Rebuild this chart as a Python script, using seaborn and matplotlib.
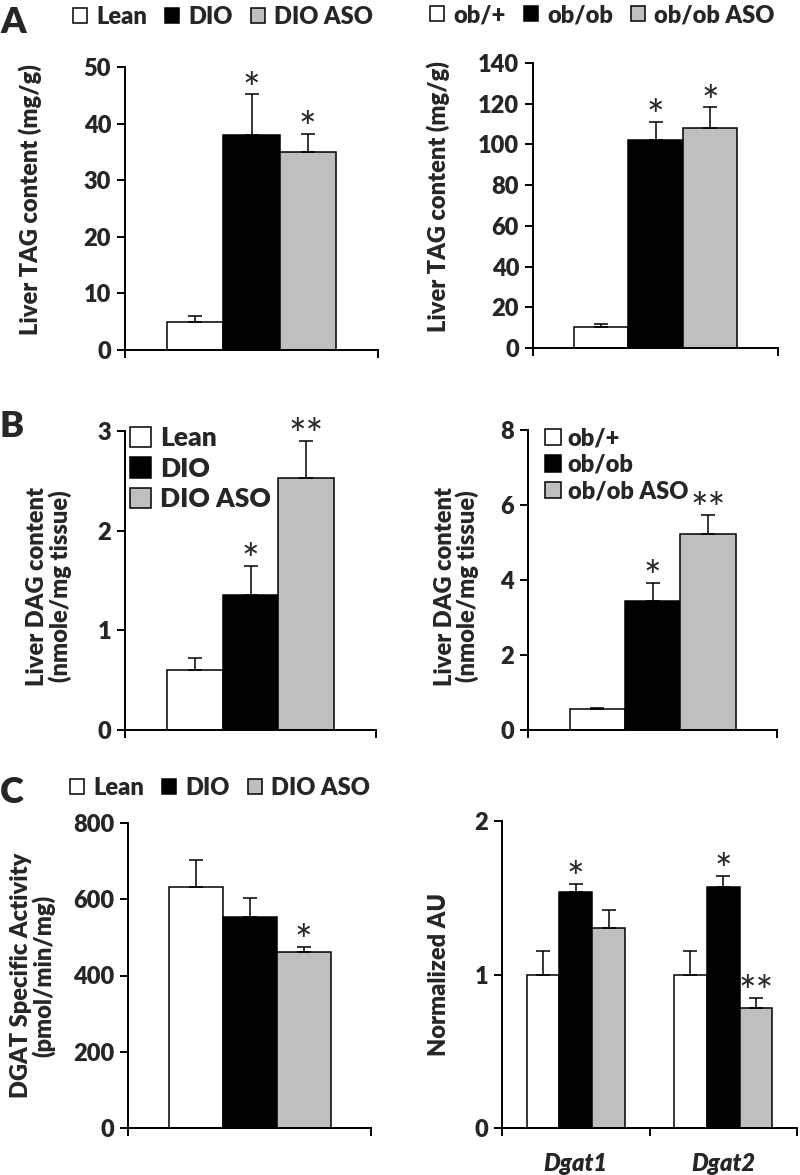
import numpy as np
import pandas as pd
import matplotlib
matplotlib.use("Agg")
import matplotlib.pyplot as plt
import seaborn as sns
from matplotlib.patches import Patch

W, H = 800, 1175

diet_groups = ["Lean", "DIO", "DIO ASO"]
ob_groups = ["ob/+", "ob/ob", "ob/ob ASO"]
genes = ["Dgat1", "Dgat2"]
colors = ["white", "black", "#BFBFBF"]

# A: liver TAG content (mg/g)
tag_diet_mean = [5.0, 38.0, 35.0]
tag_diet_sem = [1.0, 7.2, 3.2]
tag_diet_stars = ["", "*", "*"]
tag_ob_mean = [10.5, 102.0, 108.0]
tag_ob_sem = [1.2, 9.0, 10.3]
tag_ob_stars = ["", "*", "*"]

# B: liver DAG content (nmole/mg tissue)
dag_diet_mean = [0.60, 1.35, 2.53]
dag_diet_sem = [0.12, 0.30, 0.37]
dag_diet_stars = ["", "*", "**"]
dag_ob_mean = [0.55, 3.45, 5.23]
dag_ob_sem = [0.05, 0.48, 0.50]
dag_ob_stars = ["", "*", "**"]

# C: DGAT activity and mRNA
dgat_act_mean = [633, 553, 462]
dgat_act_sem = [71, 49, 13]
dgat_act_stars = ["", "", "*"]
dgat1_mean = [1.00, 1.535, 1.30]
dgat1_sem = [0.15, 0.055, 0.12]
dgat1_stars = ["", "*", ""]
dgat2_mean = [1.00, 1.567, 0.784]
dgat2_sem = [0.15, 0.077, 0.063]
dgat2_stars = ["", "*", "**"]

FS = 17

sns.set_theme(style="white", context="notebook")
plt.rcParams["font.family"] = ["Lato", "DejaVu Sans"]
plt.rcParams["font.weight"] = "heavy"
plt.rcParams["axes.labelweight"] = "heavy"


def add_ax(fig, left, top, right, bottom):
    return fig.add_axes([left / W, 1 - bottom / H, (right - left) / W, (bottom - top) / H])


def panel_df(cats, groups, means, sems, stars):
    rows = []
    for c, ms, ss, sts in zip(cats, means, sems, stars):
        for g, m, s, st in zip(groups, ms, ss, sts):
            rows.append(dict(cat=c, group=g, value=m, err=s, star=st))
    return pd.DataFrame(rows)


def plot_panel(ax, df, groups, yticks, ylabel, label_x, label_y=0.5):
    cats = list(dict.fromkeys(df["cat"]))
    sns.barplot(data=df, x="cat", y="value", hue="group", hue_order=groups,
                palette=colors, saturation=1, width=2 / 3, errorbar=None,
                edgecolor="black", linewidth=1.1, legend=False, ax=ax)
    for cont, g in zip(ax.containers, groups):
        sub = df[df["group"] == g]
        for bar, (_, r) in zip(cont, sub.iterrows()):
            xc = bar.get_x() + bar.get_width() / 2
            top = r["value"] + r["err"]
            ax.errorbar(xc, r["value"], yerr=[[0], [r["err"]]], fmt="none", ecolor="black",
                        elinewidth=1.1, capsize=5, capthick=1.1)
            if r["star"]:
                ax.annotate(r["star"], (xc, top), xytext=(0, -6),
                            textcoords="offset points", ha="center", va="baseline",
                            fontsize=30, fontweight="normal")
    n = len(cats)
    ax.set_xlim(-0.5, n - 0.5)
    ax.set_ylim(yticks[0], yticks[-1])
    ax.set_yticks(yticks)
    ax.set_xticks(range(n))
    ax.set_xticks(np.arange(-0.5, n), minor=True)
    ax.tick_params(axis="x", which="major", length=0, pad=17, labelsize=FS)
    ax.tick_params(axis="x", which="minor", length=6, width=1.4, direction="out",
                   bottom=True, color="black")
    ax.tick_params(axis="y", length=6, width=1.4, direction="out", left=True,
                   labelsize=FS, color="black", pad=4)
    for side in ["top", "right"]:
        ax.spines[side].set_visible(False)
    for side in ["left", "bottom"]:
        ax.spines[side].set_color("black")
        ax.spines[side].set_linewidth(1.4)
    ax.set_xlabel("")
    ax.set_ylabel(ylabel, fontsize=FS, linespacing=1.0)
    ax.yaxis.set_label_coords(label_x, label_y)


def handles(groups):
    return [Patch(facecolor=c, edgecolor="black", linewidth=1.1) for c in colors]


fig = plt.figure(figsize=(W / 100, H / 100), dpi=100)

# A
ax = add_ax(fig, 125, 67, 378, 350)
plot_panel(ax, panel_df([""], diet_groups, [tag_diet_mean], [tag_diet_sem], [tag_diet_stars]),
           diet_groups, [0, 10, 20, 30, 40, 50], "Liver TAG content (mg/g)", -0.328, 0.53)
ax = add_ax(fig, 533, 63, 778, 348)
plot_panel(ax, panel_df([""], ob_groups, [tag_ob_mean], [tag_ob_sem], [tag_ob_stars]),
           ob_groups, [0, 20, 40, 60, 80, 100, 120, 140], "Liver TAG content (mg/g)", -0.339, 0.53)

# B
ax = add_ax(fig, 125, 431, 376, 730)
plot_panel(ax, panel_df([""], diet_groups, [dag_diet_mean], [dag_diet_sem], [dag_diet_stars]),
           diet_groups, [0, 1, 2, 3], "Liver DAG content\n(nmole/mg tissue)", -0.211, 0.48)
ax.legend(handles(diet_groups), diet_groups, loc="upper left", bbox_to_anchor=(130 / W, 1 - 426 / H),
          bbox_transform=fig.transFigure, frameon=False, fontsize=19, handlelength=0.8,
          handleheight=0.8, handletextpad=0.35, labelspacing=0.25, borderpad=0, borderaxespad=0)
ax = add_ax(fig, 528, 430, 777, 730)
plot_panel(ax, panel_df([""], ob_groups, [dag_ob_mean], [dag_ob_sem], [dag_ob_stars]),
           ob_groups, [0, 2, 4, 6, 8], "Liver DAG content\n(nmole/mg tissue)", -0.196, 0.48)
ax.legend(handles(ob_groups), ob_groups, loc="upper left", bbox_to_anchor=(545 / W, 1 - 427 / H),
          bbox_transform=fig.transFigure, frameon=False, fontsize=FS, handlelength=0.68,
          handleheight=0.68, handletextpad=0.28, labelspacing=0.2, borderpad=0, borderaxespad=0)

# C
ax = add_ax(fig, 128, 823, 371, 1128)
plot_panel(ax, panel_df([""], diet_groups, [dgat_act_mean], [dgat_act_sem], [dgat_act_stars]),
           diet_groups, [0, 200, 400, 600, 800], "DGAT Specific Activity\n(pmol/min/mg)", -0.299, 0.5)
ax = add_ax(fig, 502, 821, 797, 1128)
plot_panel(ax, panel_df(genes, diet_groups, [dgat1_mean, dgat2_mean], [dgat1_sem, dgat2_sem],
                        [dgat1_stars, dgat2_stars]),
           diet_groups, [0, 1, 2], "Normalized AU", -0.175, 0.5)
for t in ax.get_xticklabels():
    t.set_fontstyle("italic")

# top legends
for x0, y0, groups in [(73, 17, diet_groups), (430, 15, ob_groups), (70, 788, diet_groups)]:
    fig.legend(handles(groups), groups, loc="center left", bbox_to_anchor=(x0 / W, 1 - y0 / H),
               ncol=3, frameon=False, fontsize=FS, handlelength=0.6, handleheight=0.6,
               handletextpad=0.4, columnspacing=0.75, borderpad=0, borderaxespad=0)

# panel letters
for letter, x0, y0 in [("A", 0, 33), ("B", 0, 437), ("C", 0, 803)]:
    fig.text(x0 / W, 1 - y0 / H, letter, fontsize=26, fontweight="heavy", ha="left", va="baseline")

fig.savefig("out.png", dpi=100)
